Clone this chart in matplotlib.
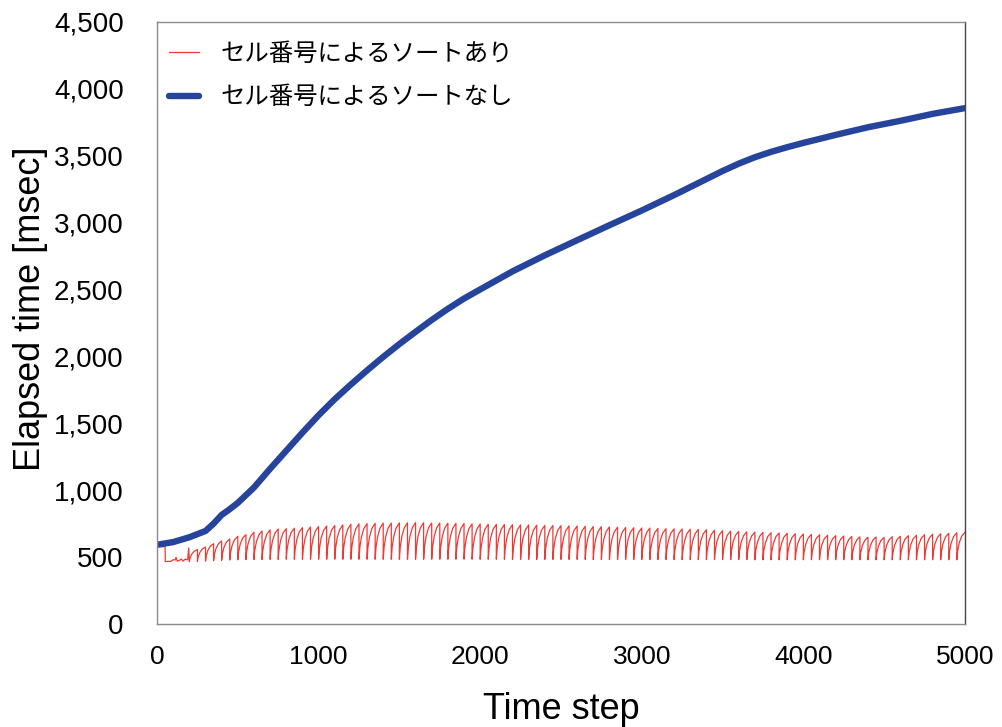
import matplotlib

matplotlib.use("Agg")
import matplotlib.pyplot as plt
from matplotlib.ticker import FuncFormatter

# blue series: no sorting by cell number
blue_steps = [0, 100, 200, 300, 350, 400, 450, 500, 600, 700, 800, 900, 1000,
              1100, 1200, 1300, 1400, 1500, 1600, 1700, 1800, 1900, 2000,
              2200, 2400, 2600, 2800, 3000, 3200, 3400, 3500, 3600, 3700,
              3800, 3900, 4000, 4200, 4400, 4600, 4800, 5000]
blue_values = [592, 612, 648, 695, 750, 815, 858, 905, 1020, 1160, 1295, 1430, 1560,
               1680, 1790, 1895, 1996, 2092, 2183, 2272, 2355, 2432, 2500,
               2635, 2755, 2868, 2980, 3090, 3205, 3325, 3385, 3440, 3488,
               3528, 3563, 3595, 3655, 3712, 3760, 3812, 3855]

# red series: sorting by cell number, re-sorted every 50 steps
red_head_steps = [0, 50, 51, 85, 100, 112, 118, 125, 140, 150, 160, 175, 190, 196, 200]
red_head_values = [578, 578, 466, 468, 480, 478, 498, 470, 476, 486, 470, 484, 480, 568, 466]

sort_interval = 50
first_sort_step = 200
red_peaks = [
    556, 575, 600, 620, 635, 655, 668, 685, 695, 703,
    710, 712, 716, 720, 725, 728, 732, 736, 740, 745,
    748, 750, 752, 754, 754, 756, 756, 757, 757, 755,
    755, 753, 752, 750, 748, 747, 745, 744, 743, 742,
    740, 740, 738, 737, 736, 735, 733, 732, 730, 728,
    727, 725, 723, 721, 719, 717, 716, 714, 712, 711,
    710, 708, 706, 704, 700, 697, 694, 692, 689, 686,
    684, 682, 680, 677, 674, 672, 669, 666, 663, 660,
    657, 654, 651, 648, 650, 647, 652, 655, 660, 662,
    667, 670, 674, 678, 682, 685,
]
red_lows = [
    466, 468, 470, 473, 476, 478, 480, 481, 482, 482,
    483, 483, 484, 484, 484, 484, 484, 484, 484, 484,
    484, 484, 484, 484, 484, 484, 484, 484, 484, 484,
    484, 484, 484, 484, 484, 484, 484, 484, 484, 484,
    483, 483, 483, 483, 483, 483, 483, 483, 483, 483,
    482, 482, 482, 482, 482, 482, 482, 482, 482, 482,
    481, 481, 481, 481, 481, 481, 481, 481, 481, 481,
    480, 480, 480, 480, 480, 480, 480, 480, 480, 480,
    480, 480, 480, 480, 480, 480, 480, 480, 480, 480,
    480, 480, 480, 480, 480, 480,
]
# shape of one rise between two sorts (step offset, fraction of the rise)
tooth_offsets = [0, 5, 15, 30, 50]
tooth_fractions = [0.0, 0.32, 0.62, 0.86, 1.0]

series_labels = ["セル番号によるソートあり", "セル番号によるソートなし"]
x_ticks = [0, 1000, 2000, 3000, 4000, 5000]
y_ticks = [0, 500, 1000, 1500, 2000, 2500, 3000, 3500, 4000, 4500]

red_x = list(red_head_steps)
red_y = list(red_head_values)
for k, (low, peak) in enumerate(zip(red_lows, red_peaks)):
    start = first_sort_step + k * sort_interval
    for off, frac in zip(tooth_offsets, tooth_fractions):
        red_x.append(start + off)
        red_y.append(low + frac * (peak - low))

fig = plt.figure(figsize=(10.02, 7.27), dpi=100)
ax = fig.add_axes([0.1567, 0.1417, 0.8063, 0.8283])

ax.plot(red_x, red_y, color="#ee3a35", lw=0.9, label=series_labels[0])
ax.plot(blue_steps, blue_values, color="#26449c", lw=4.6,
        solid_capstyle="round", solid_joinstyle="round", label=series_labels[1])

ax.set_xlim(0, 5000)
ax.set_ylim(0, 4500)
ax.set_xticks(x_ticks)
ax.set_yticks(y_ticks)
ax.yaxis.set_major_formatter(FuncFormatter(lambda v, _: f"{int(v):,}"))
ax.tick_params(axis="both", length=0)
ax.tick_params(axis="x", pad=15)
ax.tick_params(axis="y", pad=24)
for lab in ax.get_xticklabels():
    lab.set_fontfamily("Liberation Sans")
    lab.set_fontsize(19)
for lab in ax.get_yticklabels():
    lab.set_fontfamily("Liberation Sans")
    lab.set_fontsize(20)

ax.set_xlabel("Time step", fontsize=26, family="Liberation Sans", labelpad=17)
ax.set_ylabel("Elapsed time [msec]", fontsize=26, family="Liberation Sans",
              labelpad=4)
ax.yaxis.label.set_y(0.523)

for side in ["left", "bottom", "top"]:
    ax.spines[side].set_color("#8a8a8a")
ax.spines["right"].set_color("#444444")
for sp in ax.spines.values():
    sp.set_linewidth(1.0)

ax.legend(loc="upper left", bbox_to_anchor=(-0.015, 1.009), frameon=False,
          prop={"family": ["Noto Sans CJK JP", "DejaVu Sans"], "size": 17.6},
          handlelength=1.2, handletextpad=0.9, labelspacing=0.72,
          borderaxespad=0.6)

fig.savefig("out.png", dpi=100)
